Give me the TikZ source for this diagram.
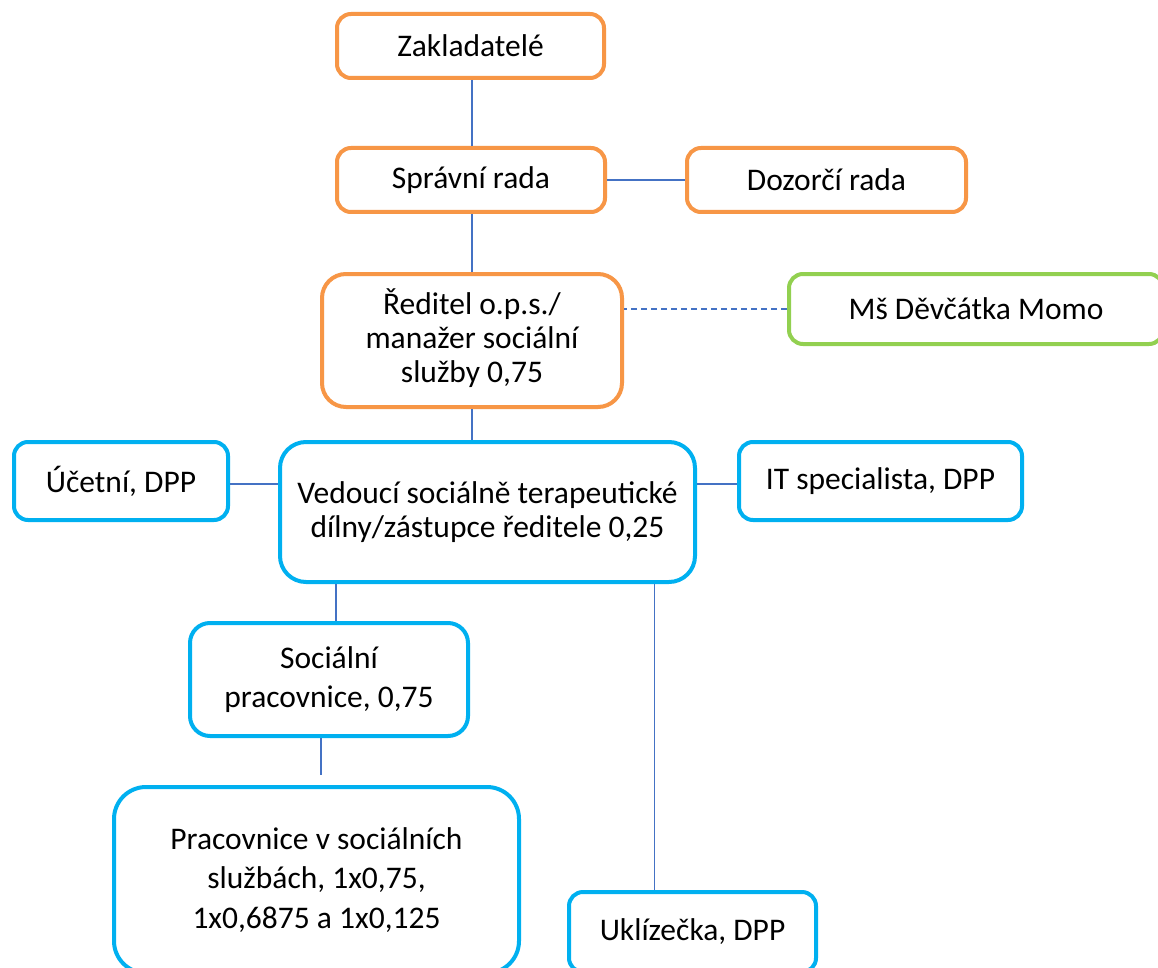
\documentclass[tikz,border=0pt]{standalone}
\usepackage{fontspec}
\setmainfont{Carlito}
\definecolor{orgc}{RGB}{247,150,70}
\definecolor{cyanc}{RGB}{0,176,240}
\definecolor{grnc}{RGB}{146,208,80}
\definecolor{linec}{RGB}{68,114,196}
\begin{document}
\begin{tikzpicture}[x=1pt,y=-1pt,
  box/.style={draw,line width=4pt,rounded corners=#1,fill=white,align=center,inner sep=0pt,
    font=\fontsize{31.5}{34}\selectfont},
  box/.default=14pt,
  wide/.style={font=\fontsize{31.5}{39.5}\selectfont},
  conn/.style={draw=linec,line width=1.5pt},
  dconn/.style={conn,dash pattern=on 6pt off 4pt}]
\useasboundingbox (0,0) rectangle (1158,968);
\clip (0,0) rectangle (1158,968);
\fill[white] (0,0) rectangle (1158,968);
\node[box,draw=orgc,minimum width=267pt,minimum height=64pt] (zak) at (470.5,46) {Zakladatelé};
\node[box,draw=orgc,minimum width=268pt,minimum height=64pt] (spr) at (471,180) {Správní rada};
\node[box,draw=orgc,minimum width=279pt,minimum height=64pt] (doz) at (826.5,180) {Dozorčí rada};
\node[box=24pt,draw=orgc,minimum width=300pt,minimum height=133pt] (red) at (472,340.5) {\raisebox{-4pt}{\begin{tabular}{@{}c@{}}Ředitel o.p.s./\\manažer sociální\\služby 0,75\end{tabular}}};
\node[box,draw=grnc,minimum width=374pt,minimum height=70pt] (ms) at (976,309) {Mš Děvčátka Momo};
\node[box,draw=cyanc,minimum width=214pt,minimum height=78pt] (uc) at (121,481) {Účetní, DPP};
\node[box=26pt,draw=cyanc,minimum width=415pt,minimum height=140pt] (ved) at (487.5,512) {Vedoucí sociálně terapeutické\\dílny/zástupce ředitele 0,25};
\node[box,draw=cyanc,minimum width=283pt,minimum height=78pt] (it) at (880.5,481) {IT specialista, DPP};
\node[box=20pt,wide,draw=cyanc,minimum width=278pt,minimum height=113pt] (soc) at (329,679.5) {Sociální\\pracovnice, 0,75};
\node[box=32pt,wide,draw=cyanc,minimum width=405pt,minimum height=186pt] (pra) at (316.5,880) {Pracovnice v sociálních\\službách, 1x0,75,\\1x0,6875 a 1x0,125};
\node[box,draw=cyanc,minimum width=247pt,minimum height=80pt] (ukl) at (692.5,932) {Uklízečka, DPP};
% connectors
\draw[conn] ([xshift=1.5pt]zak.south) -- ([xshift=1pt]spr.north);
\draw[conn] (spr.east) -- (doz.west);
\draw[conn] ([xshift=1pt]spr.south) -- (red.north);
\draw[dconn] (ms.west) -- (ms.west -| red.east);
\draw[conn] (red.south) -- (red.south |- ved.north);
\draw[conn] ([yshift=-3pt]uc.east) -- ([yshift=-3pt]uc.east -| ved.west);
\draw[conn] ([yshift=-3pt]it.west) -- ([yshift=-3pt]it.west -| ved.east);
\draw[conn] ([xshift=7pt]soc.north) -- ([xshift=7pt]soc.north |- ved.south);
\draw[conn] ([xshift=-38pt]ukl.north) -- ([xshift=-38pt]ukl.north |- ved.south);
\coordinate (pe) at (321,775);
\draw[conn] (pe |- soc.south) -- (pe);
\end{tikzpicture}
\end{document}
